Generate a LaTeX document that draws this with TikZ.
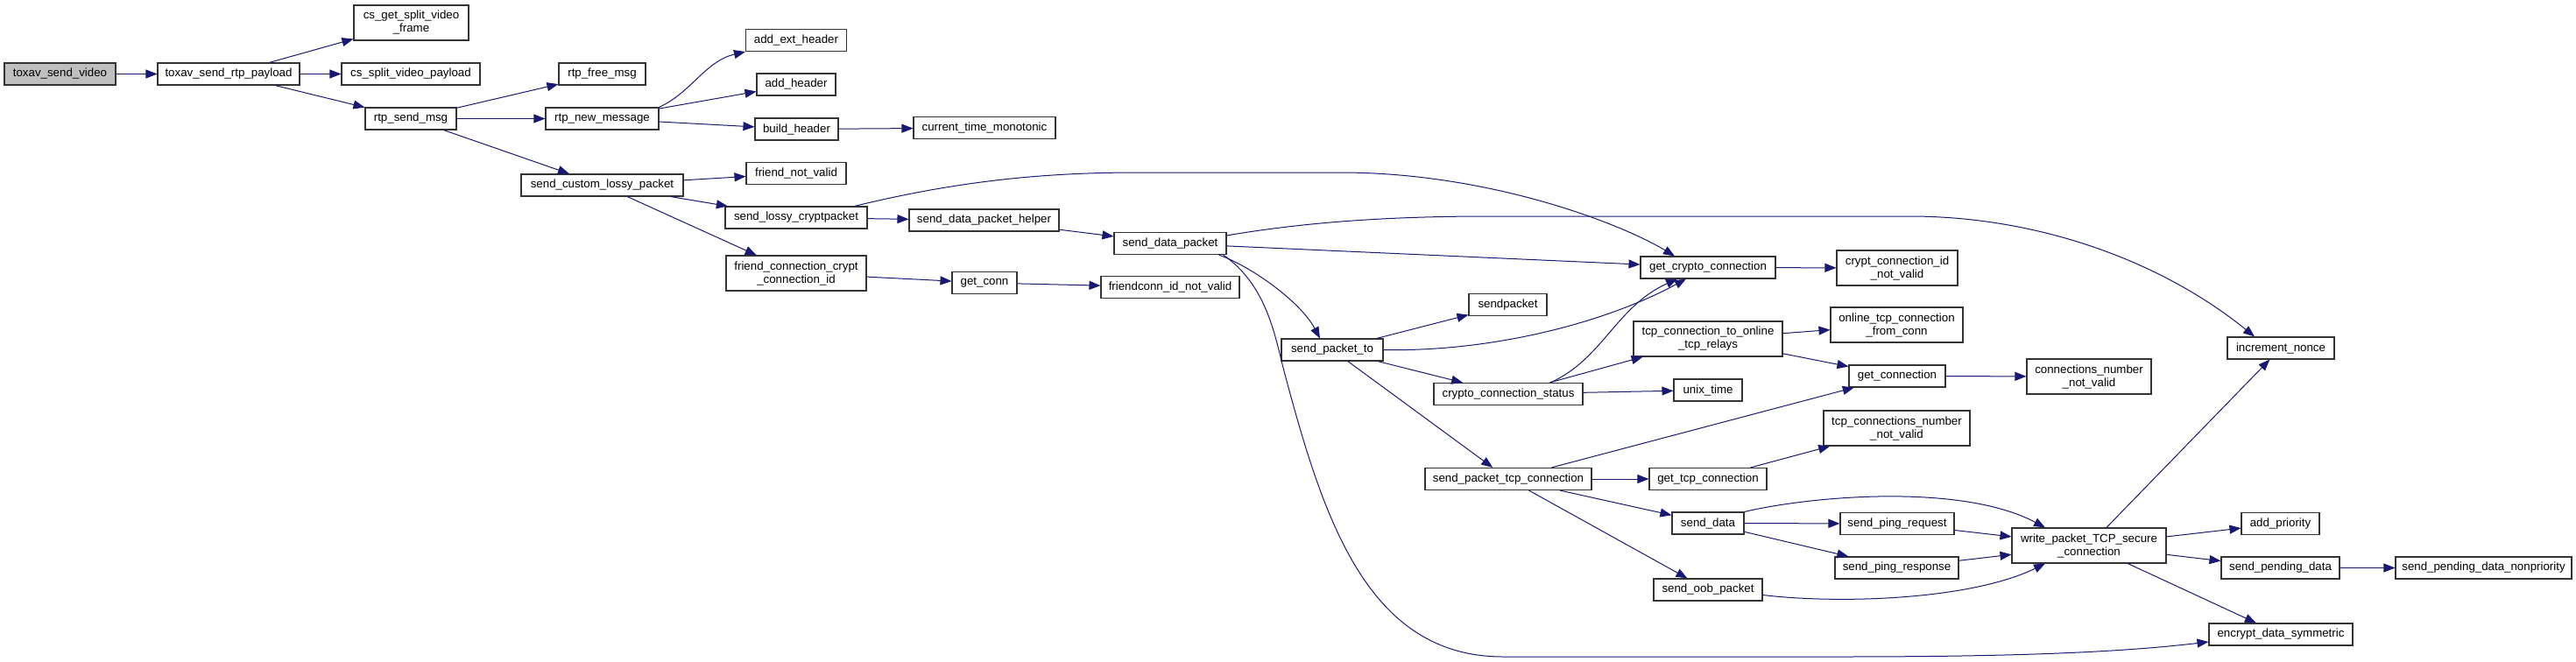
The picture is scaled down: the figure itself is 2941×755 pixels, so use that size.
\documentclass[tikz,border=0pt]{standalone}
\usepackage{fontspec}
\setmainfont{Liberation Sans}
\usetikzlibrary{arrows.meta}
\definecolor{edgec}{HTML}{191970}
\definecolor{boxc}{HTML}{333333}
\definecolor{rootc}{HTML}{BFBFBF}
\tikzset{
  fn/.style={draw=boxc, line width=1.1pt, fill=white, minimum height=25pt, inner sep=0pt,
    align=center, font=\fontsize{13.3}{15}\selectfont},
  fn2/.style={fn, minimum height=40pt},
  call/.style={draw=edgec, line width=1pt, -{Triangle[length=13pt,width=10pt]}, edgec}
}
\begin{document}
\begin{tikzpicture}[x=1pt,y=-1pt]
\useasboundingbox (0,0) rectangle (2941,755);
\fill[white] (0,0) rectangle (2941,755);
% nodes
\node[fn, fill=rootc, minimum width=127pt] (n1) at (68.5,84.5) {toxav\_send\_video};
\node[fn, minimum width=162pt] (n2) at (261,84.5) {toxav\_send\_rtp\_payload};
\node[fn2, minimum width=131pt] (n3) at (469.5,26) {cs\_get\_split\_video\\\_frame};
\node[fn, minimum width=158pt] (n4) at (469,84.5) {cs\_split\_video\_payload};
\node[fn, minimum width=104pt] (n5) at (469,135.5) {rtp\_send\_msg};
\node[fn, minimum width=99pt] (n6) at (687.5,84.5) {rtp\_free\_msg};
\node[fn, minimum width=129pt] (n7) at (687.5,135.5) {rtp\_new\_message};
\node[fn, minimum width=185pt] (n8) at (687.5,211.5) {send\_custom\_lossy\_packet};
\node[fn, minimum width=115pt] (n9) at (909,46) {add\_ext\_header};
\node[fn, minimum width=90pt] (n10) at (909,96.5) {add\_header};
\node[fn, minimum width=95pt] (n11) at (909.5,147.5) {build\_header};
\node[fn, minimum width=162pt] (n12) at (1124,146) {current\_time\_monotonic};
\node[fn, minimum width=114pt] (n13) at (909,198) {friend\_not\_valid};
\node[fn, minimum width=162pt] (n14) at (909,248.5) {send\_lossy\_cryptpacket};
\node[fn, minimum width=171pt] (n15) at (1123.5,251.5) {send\_data\_packet\_helper};
\node[fn, minimum width=128pt] (n16) at (1336,278) {send\_data\_packet};
\node[fn2, minimum width=160pt] (n17) at (909,312) {friend\_connection\_crypt\\\_connection\_id};
\node[fn, minimum width=74pt] (n18) at (1124,323) {get\_conn};
\node[fn, minimum width=158pt] (n19) at (1336,328) {friendconn\_id\_not\_valid};
\node[fn, minimum width=154pt] (n20) at (1950,305.5) {get\_crypto\_connection};
\node[fn2, minimum width=138pt] (n21) at (2166,306) {crypt\_connection\_id\\\_not\_valid};
\node[fn, minimum width=89pt] (n22) at (1721.5,348) {sendpacket};
\node[fn, minimum width=116pt] (n23) at (1521,399.5) {send\_packet\_to};
\node[fn2, minimum width=170pt] (n24) at (1950,387) {tcp\_connection\_to\_online\\\_tcp\_relays};
\node[fn2, minimum width=151pt] (n25) at (2165.5,371) {online\_tcp\_connection\\\_from\_conn};
\node[fn, minimum width=170pt] (n26) at (1722,450) {crypto\_connection\_status};
\node[fn, minimum width=78pt] (n27) at (1950,445.5) {unix\_time};
\node[fn, minimum width=110pt] (n28) at (2166,429.5) {get\_connection};
\node[fn2, minimum width=142pt] (n29) at (2385,430) {connections\_number\\\_not\_valid};
\node[fn2, minimum width=167pt] (n30) at (2165.5,489) {tcp\_connections\_number\\\_not\_valid};
\node[fn, minimum width=190pt] (n31) at (1722,547) {send\_packet\_tcp\_connection};
\node[fn, minimum width=134pt] (n32) at (1950,547) {get\_tcp\_connection};
\node[fn, minimum width=82pt] (n33) at (1950,597.5) {send\_data};
\node[fn, minimum width=124pt] (n34) at (1950,673.5) {send\_oob\_packet};
\node[fn, minimum width=130pt] (n35) at (2166,598) {send\_ping\_request};
\node[fn, minimum width=141pt] (n36) at (2165.5,648.5) {send\_ping\_response};
\node[fn2, minimum width=176pt] (n37) at (2385,623) {write\_packet\_TCP\_secure\\\_connection};
\node[fn, minimum width=122pt] (n38) at (2604,397.5) {increment\_nonce};
\node[fn, minimum width=89pt] (n39) at (2603.5,598) {add\_priority};
\node[fn, minimum width=135pt] (n40) at (2603.5,648.5) {send\_pending\_data};
\node[fn, minimum width=201pt] (n41) at (2835.5,648.5) {send\_pending\_data\_nonpriority};
\node[fn, minimum width=164pt] (n42) at (2604,724.5) {encrypt\_data\_symmetric};
% edges
\draw[call] (n1) -- (n2);
\draw[call] (n2) -- (n3);
\draw[call] (n2) -- (n4);
\draw[call] (n2) -- (n5);
\draw[call] (n5) -- (n6);
\draw[call] (n5) -- (n7);
\draw[call] (n5) -- (n8);
\draw[call] (n7.north east) .. controls (790,105) and (805,70) .. (n9.south west);
\draw[call] (n7) -- (n10);
\draw[call] (n7) -- (n11);
\draw[call] (n11) -- (n12);
\draw[call] (n8) -- (n13);
\draw[call] (n8) -- (n14);
\draw[call] (n8) -- (n17);
\draw[call] ([xshift=-15pt]n14.north east) .. controls (1100,205) and (1200,197) .. (1300,197)
   -- (1530,197) .. controls (1700,197) and (1850,255) .. ([xshift=-38pt]n20.north);
\draw[call] (n14) -- (n15);
\draw[call] (n15) -- (n16);
\draw[call] (n17) -- (n18);
\draw[call] (n18) -- (n19);
\draw[call] (n16) -- (n20);
\draw[call] ([yshift=-4pt]n16.north east) .. controls (1500,252) and (1600,247) .. (1700,247)
   -- (2180,247) .. controls (2330,247) and (2470,300) .. ([xshift=-30pt]n38.north);
\draw[call] ([xshift=-9pt]n16.south east) .. controls (1430,305) and (1485,345) .. ([xshift=-14pt]n23.north);
\draw[call] ([xshift=-4pt]n16.south east) .. controls (1445,325) and (1455,380) .. (1465,420)
   .. controls (1510,590) and (1560,750) .. (1716,750) -- (2100,750)
   .. controls (2300,750) and (2420,745) .. ([yshift=-8.5pt]n42.west);
\draw[call] (n23) -- (n22);
\draw[call] (n23.east) .. controls (1700,402) and (1830,370) .. ([xshift=-25pt]n20.south);
\draw[call] (n23) -- (n26);
\draw[call] (n23) -- (n31);
\draw[call] ([xshift=48pt]n26.north) .. controls (1830,410) and (1845,350) .. ([xshift=-35pt]n20.south);
\draw[call] (n26) -- (n24);
\draw[call] (n26) -- (n27);
\draw[call] (n20) -- (n21);
\draw[call] (n24) -- (n25);
\draw[call] (n24) -- (n28);
\draw[call] (n28) -- (n29);
\draw[call] (n31) -- (n28);
\draw[call] (n31) -- (n32);
\draw[call] (n31) -- (n33);
\draw[call] (n31) -- (n34);
\draw[call] (n32) -- (n30);
\draw[call] (n33.north east) .. controls (2070,566) and (2240,552) .. ([xshift=-50pt]n37.north);
\draw[call] (n33) -- (n35);
\draw[call] (n33) -- (n36);
\draw[call] (n35) -- (n37);
\draw[call] (n36) -- (n37);
\draw[call] ([yshift=-6pt]n34.east) .. controls (2100,690) and (2250,685) .. ([xshift=-50pt]n37.south);
\draw[call] (n37) -- (n38);
\draw[call] (n37) -- (n39);
\draw[call] (n37) -- (n40);
\draw[call] (n37) -- (n42);
\draw[call] (n40) -- (n41);
\end{tikzpicture}
\end{document}
